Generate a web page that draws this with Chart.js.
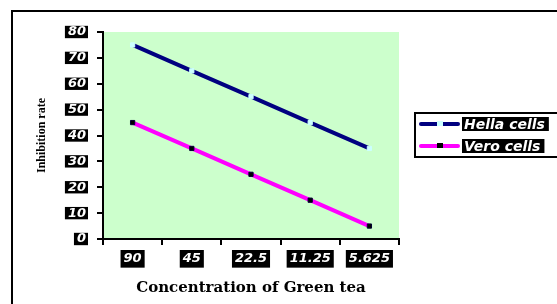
<!DOCTYPE html>
<html>
<head>
<meta charset="utf-8">
<script src="https://cdn.jsdelivr.net/npm/chart.js@4/dist/chart.umd.min.js"></script>
<style>
  html, body { margin: 0; padding: 0; background: #fff; }
  #wrap { width: 557px; height: 304px; }
</style>
</head>
<body>
<div id="wrap"><canvas id="myChart" width="557" height="304"></canvas></div>
<script>
// DATA
const concentrations = ["90", "45", "22.5", "11.25", "5.625"];
const hellaValues = [75, 65, 55, 45, 35];
const veroValues = [45, 35, 25, 15, 5];
const seriesNames = ["Hella cells", "Vero cells"];
const yTicks = [0, 10, 20, 30, 40, 50, 60, 70, 80];

const labelFont = "'DejaVu Sans', Verdana, sans-serif";

// green plot area + outer frame
const framePlugin = {
  id: "frame",
  beforeDraw(chart) {
    const { ctx, chartArea } = chart;
    ctx.save();
    ctx.fillStyle = "#ccffcc";
    ctx.fillRect(chartArea.left, chartArea.top, chartArea.right - chartArea.left, chartArea.bottom - chartArea.top);
    ctx.strokeStyle = "#000";
    ctx.lineWidth = 2;
    ctx.beginPath();
    ctx.moveTo(12, 304);
    ctx.lineTo(12, 11);
    ctx.lineTo(557, 11);
    ctx.stroke();
    ctx.restore();
  },
};

// legend box with white-on-black labels
const legendPlugin = {
  id: "boxLegend",
  afterDraw(chart) {
    const { ctx } = chart;
    ctx.save();
    ctx.strokeStyle = "#000";
    ctx.lineWidth = 2;
    ctx.fillStyle = "#fff";
    ctx.fillRect(415, 113, 150, 44);
    ctx.strokeRect(415, 113, 150, 44);
    ctx.font = "bold italic 14px " + labelFont;
    ctx.textBaseline = "middle";
    chart.data.datasets.forEach((ds, i) => {
      const y = 124 + i * 22;
      ctx.strokeStyle = ds.borderColor;
      ctx.lineWidth = 4;
      ctx.lineCap = "round";
      ctx.beginPath();
      ctx.moveTo(421, y);
      ctx.lineTo(458, y);
      ctx.stroke();
      ctx.fillStyle = ds.pointBackgroundColor;
      ctx.fillRect(437, y - 3, 6, 5);
      const w = ctx.measureText(ds.label).width;
      ctx.fillStyle = "#000";
      ctx.fillRect(462, y - 7, w + 6, 14);
      ctx.fillStyle = "#fff";
      ctx.fillText(ds.label, 464, y + 1);
    });
    ctx.restore();
  },
};

const ctx = document.getElementById("myChart");
const myChart = new Chart(ctx, {
  type: "line",
  data: {
    labels: concentrations,
    datasets: [
      {
        label: seriesNames[0],
        data: hellaValues,
        borderColor: "#000080",
        borderWidth: 4,
        pointStyle: "rect",
        pointRadius: 3,
        pointBackgroundColor: "#ccffff",
        pointBorderColor: "#ccffff",
        pointBorderWidth: 1,
        tension: 0,
      },
      {
        label: seriesNames[1],
        data: veroValues,
        borderColor: "#ff00ff",
        borderWidth: 4,
        pointStyle: "rect",
        pointRadius: 3,
        pointBackgroundColor: "#000000",
        pointBorderColor: "#000033",
        pointBorderWidth: 1,
        tension: 0,
      },
    ],
  },
  options: {
    responsive: false,
    animation: false,
    layout: { padding: { left: 14, top: 32, right: 158, bottom: 0 } },
    plugins: {
      legend: { display: false },
      tooltip: { enabled: false },
    },
    scales: {
      x: {
        offset: true,
        grid: { offset: true, drawOnChartArea: false, drawTicks: true, tickLength: 6, color: "#000", lineWidth: 2 },
        border: { display: true, color: "#000", width: 2 },
        ticks: {
          color: "#fff",
          padding: 7,
          maxRotation: 0,
          font: { family: labelFont, size: 13, weight: "bold", style: "italic", lineHeight: 1.05 },
          showLabelBackdrop: true,
          backdropColor: "#000",
          backdropPadding: { top: 2, bottom: 2, left: 3, right: 3 },
        },
        title: {
          display: true,
          text: "Concentration of Green tea",
          color: "#000",
          font: { family: "'DejaVu Serif', 'Liberation Serif', serif", size: 15, weight: "bold" },
          padding: { top: 0, bottom: 7 },
        },
        afterFit(scale) { scale.height = 65; },
      },
      y: {
        min: 0,
        max: 80,
        afterBuildTicks(scale) { scale.ticks = yTicks.map((v) => ({ value: v })); },
        grid: { drawOnChartArea: false, drawTicks: true, tickLength: 6, color: "#000", lineWidth: 2 },
        border: { display: true, color: "#000", width: 2 },
        ticks: {
          color: "#fff",
          padding: 11,
          font: { family: labelFont, size: 13, weight: "bold", style: "italic", lineHeight: 0.95 },
          showLabelBackdrop: true,
          backdropColor: "#000",
          backdropPadding: { top: 0, bottom: 0, left: 3, right: 2 },
        },
        title: {
          display: true,
          text: "Inhibition rate",
          color: "#000",
          font: { family: "'Liberation Serif', 'Times New Roman', serif", size: 12, weight: "bold" },
          padding: { top: 21, bottom: 0 },
        },
        afterFit(scale) { scale.width = 89; },
      },
    },
  },
  plugins: [framePlugin, legendPlugin],
});
</script>
</body>
</html>
